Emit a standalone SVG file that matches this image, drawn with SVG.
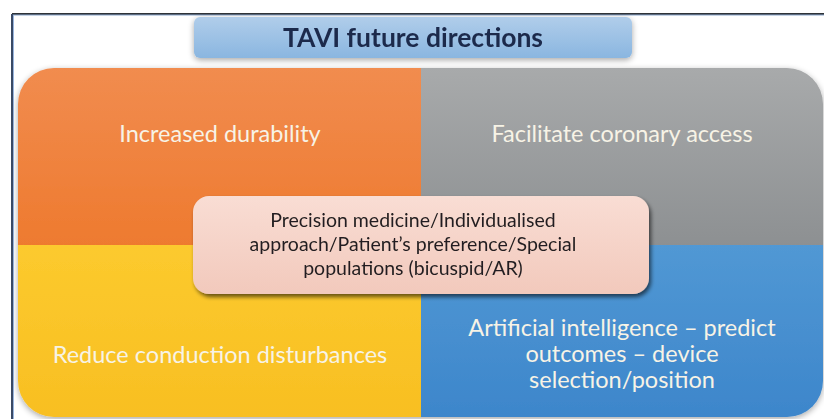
<svg xmlns="http://www.w3.org/2000/svg" width="824" height="419" viewBox="0 0 824 419">
  <style>
    .quad-label { font-family: Lato, "Open Sans", "Liberation Sans", sans-serif; font-size: 23.5px; fill: #f7f3e6; text-anchor: middle; }
    .center-label { font-family: Lato, "Open Sans", "Liberation Sans", sans-serif; font-size: 19.5px; fill: #231f20; text-anchor: middle; }
    .title-label { font-family: Lato, "Open Sans", "Liberation Sans", sans-serif; font-size: 26.5px; font-weight: bold; fill: #1d2a4c; text-anchor: middle; }
  </style>
  <defs>
    <linearGradient id="gOrange" x1="0" y1="0" x2="0" y2="1">
      <stop offset="0" stop-color="#f18c4f"/>
      <stop offset="1" stop-color="#ee7a2f"/>
    </linearGradient>
    <linearGradient id="gGray" x1="0" y1="0" x2="0" y2="1">
      <stop offset="0" stop-color="#a8aaab"/>
      <stop offset="1" stop-color="#8d9092"/>
    </linearGradient>
    <linearGradient id="gYellow" x1="0" y1="0" x2="0" y2="1">
      <stop offset="0" stop-color="#fcca2e"/>
      <stop offset="1" stop-color="#f8bf22"/>
    </linearGradient>
    <linearGradient id="gBlue" x1="0" y1="0" x2="0" y2="1">
      <stop offset="0" stop-color="#5198d4"/>
      <stop offset="1" stop-color="#3d86cb"/>
    </linearGradient>
    <linearGradient id="gTitle" x1="0" y1="0" x2="0" y2="1">
      <stop offset="0" stop-color="#b0cdea"/>
      <stop offset="1" stop-color="#8ab6e0"/>
    </linearGradient>
    <linearGradient id="gCenter" x1="0" y1="0" x2="0" y2="1">
      <stop offset="0" stop-color="#f9ddd4"/>
      <stop offset="1" stop-color="#f2c9bc"/>
    </linearGradient>
    <clipPath id="panelClip">
      <rect x="18" y="68" width="805" height="349" rx="36"/>
    </clipPath>
    <filter id="softShadow" x="-10%" y="-10%" width="120%" height="130%">
      <feGaussianBlur in="SourceAlpha" stdDeviation="3"/>
      <feOffset dx="0" dy="2" result="b"/>
      <feComponentTransfer><feFuncA type="linear" slope="0.35"/></feComponentTransfer>
      <feMerge><feMergeNode/><feMergeNode in="SourceGraphic"/></feMerge>
    </filter>
    <filter id="boxShadow" x="-10%" y="-20%" width="120%" height="150%">
      <feGaussianBlur in="SourceAlpha" stdDeviation="2"/>
      <feOffset dx="2" dy="3" result="b"/>
      <feComponentTransfer><feFuncA type="linear" slope="0.6"/></feComponentTransfer>
      <feMerge><feMergeNode/><feMergeNode in="SourceGraphic"/></feMerge>
    </filter>
  </defs>

  <rect width="824" height="419" fill="#ffffff"/>

  <!-- slide frame -->
  <g id="frame" fill="none">
    <line x1="12" y1="14" x2="824" y2="14" stroke="#2f3338" stroke-width="2"/>
    <line x1="12" y1="15" x2="824" y2="15" stroke="#8aa6cc" stroke-width="1"/>
    <line x1="12" y1="14" x2="12" y2="419" stroke="#3a4a66" stroke-width="2"/>
    <line x1="13.5" y1="15" x2="13.5" y2="419" stroke="#9bb6de" stroke-width="1"/>
  </g>

  <!-- four quadrants in one rounded panel -->
  <g id="panel" filter="url(#softShadow)">
    <g clip-path="url(#panelClip)">
      <rect x="18" y="68" width="403" height="177" fill="url(#gOrange)"/>
      <rect x="421" y="68" width="402" height="177" fill="url(#gGray)"/>
      <rect x="18" y="245" width="403" height="172" fill="url(#gYellow)"/>
      <rect x="421" y="245" width="402" height="172" fill="url(#gBlue)"/>
    </g>
  </g>

  <g id="durability">
    <text class="quad-label" x="220" y="142">Increased durability</text>
  </g>
  <g id="coronary-access">
    <text class="quad-label" x="622" y="142">Facilitate coronary access</text>
  </g>
  <g id="conduction">
    <text class="quad-label" x="220" y="363">Reduce conduction disturbances</text>
  </g>
  <g id="artificial-intelligence">
    <text class="quad-label" x="622" y="336">Artificial intelligence – predict</text>
    <text class="quad-label" x="622" y="362">outcomes – device</text>
    <text class="quad-label" x="622" y="388">selection/position</text>
  </g>

  <!-- title -->
  <g id="title" filter="url(#softShadow)">
    <rect x="194" y="17" width="438" height="41" rx="6" fill="url(#gTitle)"/>
    <text class="title-label" x="413" y="47">TAVI future directions</text>
  </g>

  <!-- central overlay -->
  <g id="precision-medicine" filter="url(#boxShadow)">
    <rect x="193" y="196" width="456" height="98" rx="16" fill="url(#gCenter)"/>
    <text class="center-label" x="413" y="227">Precision medicine/Individualised</text>
    <text class="center-label" x="413" y="251">approach/Patient’s preference/Special</text>
    <text class="center-label" x="413" y="275">populations (bicuspid/AR)</text>
  </g>
</svg>
